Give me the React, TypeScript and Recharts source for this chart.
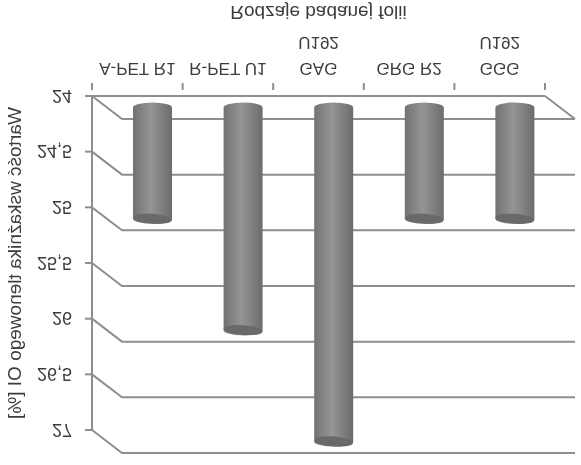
import { BarChart, Bar, XAxis, YAxis, CartesianGrid } from 'recharts';

// the reference is a vertically mirrored scan, so the whole chart gets flipped with css
const categories = ['A-PET R1', 'R-PET U1', 'GAG U192', 'GRG R2', 'GGG U192'];
const values = [25, 26, 27, 25, 25];
const yTicks = [24, 24.5, 25, 25.5, 26, 26.5, 27];
const xTitle = 'Rodzaje badanej folii';
const yTitle = 'Wartość wskaźnika tlenowego OI [%]';

const data = categories.map((name, i) => ({ name, value: values[i] }));

const LINE = '#8e8e8e';
const TEXT = '#3c3c3c';
const FONT = '"Liberation Sans", Arial, sans-serif';
const DEPTH_X = 30;
const DEPTH_Y = 23;

function WallLine(props: any) {
  const { x1, x2, y1, y2 } = props;
  const isFloor = y1 >= 368;
  return (
    <g fill="none" stroke={LINE} strokeWidth={2}>
      <path d={`M${x1},${y1}L${x1 + DEPTH_X},${y1 - DEPTH_Y}L${x2 + DEPTH_X},${y2 - DEPTH_Y}`} />
      {isFloor && <path d={`M${x2},${y2}L${x2 + DEPTH_X},${y2 - DEPTH_Y}`} />}
    </g>
  );
}

function Cylinder(props: any) {
  const { x, y, width, height } = props;
  const left = x + DEPTH_X / 2;
  const top = y - DEPTH_Y / 2;
  const bottom = top + height;
  const rx = width / 2;
  const cx = left + rx;
  const ry = 5;
  return (
    <g>
      <path
        d={`M${left},${top}L${left},${bottom}A${rx},${ry} 0 0 0 ${left + width},${bottom}L${left + width},${top}A${rx},${ry} 0 0 0 ${left},${top}Z`}
        fill="url(#cyl)"
      />
      <ellipse cx={cx} cy={top} rx={rx} ry={ry} fill="#696969" transform={`rotate(-4 ${cx} ${top})`} />
    </g>
  );
}

function CategoryTick(props: any) {
  const { x, y, payload, width, index } = props;
  const band = width / categories.length;
  const words = String(payload.value);
  // only the names ending in U192 break over two lines
  const lines = words.endsWith('U192') ? words.split(' ') : [words];
  const axisY = y - 2;
  return (
    <g>
      <line x1={x - band / 2} x2={x - band / 2} y1={axisY} y2={axisY + 7} stroke={LINE} strokeWidth={2} />
      {index === categories.length - 1 && (
        <line x1={x + band / 2} x2={x + band / 2} y1={axisY} y2={axisY + 7} stroke={LINE} strokeWidth={2} />
      )}
      <text x={x} y={y + 25} textAnchor="middle" fill={TEXT} fontSize={17} fontFamily={FONT}>
        {lines.map((t, i) => (
          <tspan key={t} x={x} dy={i === 0 ? 0 : 26}>
            {t}
          </tspan>
        ))}
      </text>
    </g>
  );
}

export default function App() {
  return (
    <div style={{ position: 'fixed', left: 0, top: 0, transform: 'scaleY(-1)', background: '#fff', filter: 'blur(0.4px)' }}>
      <BarChart
        width={581}
        height={465}
        data={data}
        margin={{ top: 35, right: 36, bottom: 0, left: 0 }}
        barSize={39}
      >
        <defs>
          <linearGradient id="cyl" x1="0" y1="0" x2="1" y2="0">
            <stop offset="0%" stopColor="#727272" />
            <stop offset="45%" stopColor="#959595" />
            <stop offset="100%" stopColor="#6c6c6c" />
          </linearGradient>
        </defs>
        <CartesianGrid vertical={false} horizontal={(p: any) => <WallLine {...p} />} />
        <XAxis
          dataKey="name"
          interval={0}
          height={96}
          stroke={LINE}
          strokeWidth={2}
          tickLine={false}
          tick={(p: any) => <CategoryTick {...p} />}
          label={{ value: xTitle, position: 'insideBottom', offset: 6, fill: TEXT, fontSize: 19, fontFamily: FONT }}
        />
        <YAxis
          domain={[24, 27]}
          ticks={yTicks}
          width={92}
          stroke={LINE}
          strokeWidth={2}
          tickSize={7}
          tickMargin={13}
          tickFormatter={(v: number) => String(v).replace('.', ',')}
          tick={{ fill: TEXT, fontSize: 18, fontFamily: FONT }}
          label={{ value: yTitle, angle: -90, position: 'insideLeft', offset: 14, fill: TEXT, fontSize: 19, fontFamily: FONT, style: { textAnchor: 'middle' } }}
        />
        <Bar dataKey="value" isAnimationActive={false} shape={(p: any) => <Cylinder {...p} />} />
      </BarChart>
    </div>
  );
}
